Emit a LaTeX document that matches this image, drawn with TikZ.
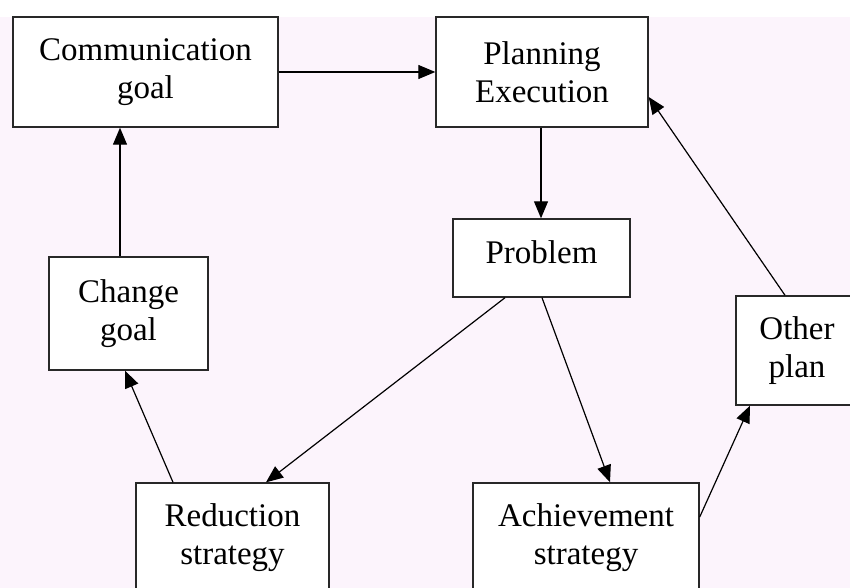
\documentclass[tikz,border=0pt]{standalone}
\usepackage{fontspec}
\setmainfont{Liberation Serif}
\usetikzlibrary{arrows.meta,calc}
\definecolor{bgpink}{RGB}{252,244,252}
\definecolor{edge}{RGB}{40,40,40}
\begin{document}
\begin{tikzpicture}[x=1pt,y=-1pt,
  box/.style={draw=edge,line width=1.4pt,fill=white,inner sep=0pt,align=center,
    font=\fontsize{33}{38}\selectfont},
  conn/.style={line width=1.2pt,-{Triangle[length=17pt,width=14pt]}}]
\useasboundingbox (0,0) rectangle (850,588);
\clip (0,0) rectangle (850,588);
\fill[bgpink] (0,17) rectangle (850,588);
\node[box,minimum width=265,minimum height=110] (comm) at (145.5,72) {Communication\\goal};
\node[box,minimum width=212,minimum height=110] (plan) at (542,72) {Planning\\Execution};
\node[box,minimum width=177,minimum height=78,text depth=12pt] (prob) at (541.5,258) {Problem};
\node[box,minimum width=159,minimum height=113] (chg) at (128.5,313.5) {Change\\goal};
\node[box,minimum width=122,minimum height=109] (oth) at (797,350.5) {Other\\plan};
\node[box,minimum width=193,minimum height=109] (red) at (232.5,537.5) {Reduction\\strategy};
\node[box,minimum width=226,minimum height=109] (ach) at (586,537.5) {Achievement\\strategy};
\draw[conn] (comm.east) -- (plan.west);
\draw[conn] ($(plan.south)+(-1,0)$) -- ($(prob.north)+(-0.5,0)$);
\draw[conn] ($(prob.south)+(-36.5,0)$) -- ($(red.north)+(33.5,0)$);
\draw[conn] ($(prob.south)+(0.5,0)$) -- ($(ach.north)+(24,0)$);
\draw[conn] ($(red.north)+(-59.5,0)$) -- ($(chg.south)+(-3.5,0)$);
\draw[conn] ($(chg.north)+(-8.5,0)$) -- ($(comm.south)+(-25.5,0)$);
\draw[conn] ($(ach.east)+(0,-20.5)$) -- ($(oth.south)+(-47,0)$);
\draw[conn] ($(oth.north)+(-12,0)$) -- ($(plan.east)+(0,25)$);
\end{tikzpicture}
\end{document}
